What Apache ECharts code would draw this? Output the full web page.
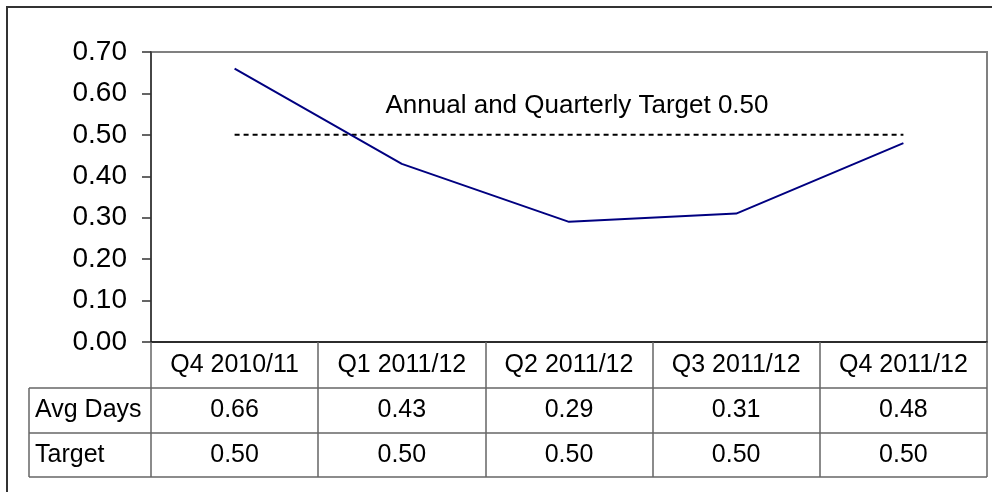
<!DOCTYPE html>
<html>
<head>
<meta charset="utf-8">
<script src="https://cdn.jsdelivr.net/npm/echarts@6/dist/echarts.min.js"></script>
<style>
  html, body { margin: 0; padding: 0; background: #fff; }
  #chart { width: 992px; height: 492px; }
</style>
</head>
<body>
<div id="chart"></div>
<script>
// Quarterly average days against the target
const categories = ['Q4 2010/11', 'Q1 2011/12', 'Q2 2011/12', 'Q3 2011/12', 'Q4 2011/12'];
const avgDays = [0.66, 0.43, 0.29, 0.31, 0.48];
const target = [0.50, 0.50, 0.50, 0.50, 0.50];
const rowNames = ['Avg Days', 'Target'];
const targetNote = 'Annual and Quarterly Target 0.50';
const yTicks = { min: 0, max: 0.7, interval: 0.1 };

const FONT = "'Liberation Sans', Arial, sans-serif";

// layout of the plot and the data table below it
const W = 992, H = 492;
const grid = { left: 151, top: 52, right: 5, bottom: 150 };
const axisY = H - grid.bottom;            // y of the category axis
const rowH = [46, 45, 44];                // header row, Avg Days row, Target row
const tableLeft = 29;
const gridRightX = W - grid.right;

const rowTops = [axisY];
rowH.forEach((h, i) => rowTops.push(rowTops[i] + h));

const graphics = [
  // outer frame
  { type: 'rect', shape: { x: 7, y: 7, width: W + 20, height: H + 20 },
    style: { fill: 'none', stroke: '#333', lineWidth: 2 }, silent: true }
];
// horizontal rules of the table (below header, between rows, bottom)
for (let r = 1; r < rowTops.length; r++) {
  graphics.push({ type: 'line',
    shape: { x1: tableLeft, y1: rowTops[r], x2: gridRightX, y2: rowTops[r] },
    style: { stroke: '#666', lineWidth: 1.5 }, silent: true });
}
// left edge of the row-name column
graphics.push({ type: 'line',
  shape: { x1: tableLeft, y1: rowTops[1], x2: tableLeft, y2: rowTops[3] },
  style: { stroke: '#666', lineWidth: 1.5 }, silent: true });
// row names
rowNames.forEach((name, i) => {
  graphics.push({ type: 'text', silent: true,
    style: { text: name, x: tableLeft + 6, y: (rowTops[i + 1] + rowTops[i + 2]) / 2,
      fill: '#000', font: '25px ' + FONT, verticalAlign: 'middle', align: 'left' } });
});

const mid = Math.floor(target.length / 2);

const chart = echarts.init(document.getElementById('chart'), null, { renderer: 'canvas' });
chart.setOption({
  animation: false,
  backgroundColor: '#fff',
  grid: { left: grid.left, top: grid.top, right: grid.right, bottom: grid.bottom,
    show: true, borderColor: '#808080', borderWidth: 2, backgroundColor: 'transparent' },
  xAxis: {
    type: 'category',
    data: categories,
    boundaryGap: true,
    axisLine: { lineStyle: { color: '#111', width: 1.5 } },
    axisTick: { show: true, interval: 0, length: rowH[0] + rowH[1] + rowH[2],
      lineStyle: { color: '#666', width: 1.5 } },
    splitLine: { show: false },
    axisLabel: {
      interval: 0, margin: 0, color: '#000', fontFamily: FONT,
      formatter: (v, i) => `{h|${v}}\n{r|${avgDays[i].toFixed(2)}}\n{t|${target[i].toFixed(2)}}`,
      rich: {
        h: { fontSize: 25, lineHeight: rowH[0], fontFamily: FONT, color: '#000' },
        r: { fontSize: 25, lineHeight: rowH[1], fontFamily: FONT, color: '#000' },
        t: { fontSize: 25, lineHeight: rowH[2], fontFamily: FONT, color: '#000' }
      }
    }
  },
  yAxis: {
    type: 'value',
    min: yTicks.min, max: yTicks.max, interval: yTicks.interval,
    axisLine: { show: true, lineStyle: { color: '#333', width: 1.5 } },
    axisTick: { show: true, length: 9, lineStyle: { color: '#333', width: 1.5 } },
    splitLine: { show: false },
    axisLabel: { margin: 24, color: '#000', fontSize: 28, fontFamily: FONT,
      formatter: v => v.toFixed(2) }
  },
  series: [
    {
      name: 'Avg Days', type: 'line', data: avgDays,
      symbol: 'none', z: 3,
      lineStyle: { color: '#000080', width: 2 }
    },
    {
      name: 'Target', type: 'line', data: target,
      symbol: 'none', z: 2,
      lineStyle: { color: '#000', width: 2, type: [5, 4] },
      // caption above the target line, anchored at the middle quarter
      markPoint: {
        symbol: 'circle', symbolSize: 0, silent: true,
        data: [{ coord: [mid, target[mid]] }],
        label: { show: true, position: 'top', distance: 16, offset: [8, 0],
          formatter: targetNote, fontSize: 26, fontFamily: FONT, color: '#000' }
      }
    }
  ],
  graphic: graphics
});
</script>
</body>
</html>
